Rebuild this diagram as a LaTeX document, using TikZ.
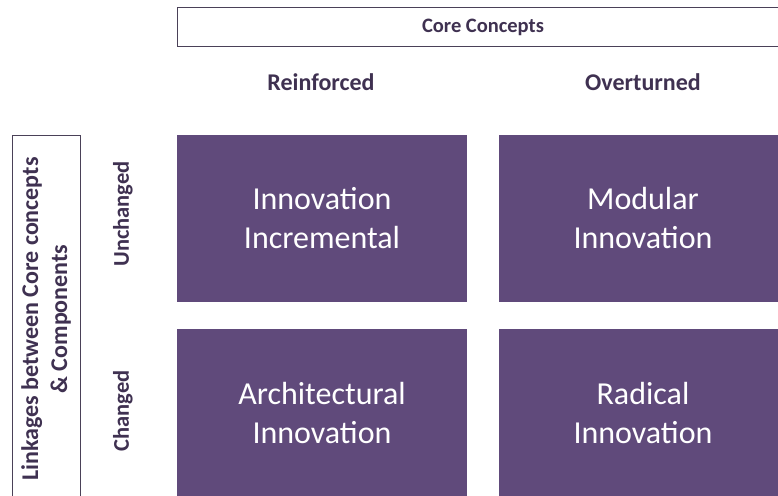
\documentclass[tikz,border=0pt]{standalone}
\usepackage{fontspec}
\setmainfont{Carlito}
\definecolor{boxpurple}{HTML}{604A7B}
\definecolor{labelpurple}{HTML}{3F3151}
\definecolor{framecol}{HTML}{4A4158}
\begin{document}
\begin{tikzpicture}[x=1pt,y=-1pt,
  cell/.style={fill=boxpurple, draw=none, inner sep=0pt, text=white, align=center,
    font=\fontsize{32}{39}\selectfont},
  hdr/.style={text=labelpurple, font=\bfseries\fontsize{20.5}{25}\selectfont, inner sep=0pt, align=center},
  hdrbig/.style={hdr, font=\bfseries\fontsize{24}{29}\selectfont},
  hdrmid/.style={hdr, font=\bfseries\fontsize{22.5}{27}\selectfont},
  frame/.style={draw=framecol, line width=0.8pt, fill=none}
]
\useasboundingbox (0,0) rectangle (778,495);
\clip (0,0) rectangle (778,495);
\fill[white] (0,0) rectangle (778,495);
% header boxes
\draw[frame] (177,7) rectangle (790,46);
\node[hdr] (core) at (483,27) {Core Concepts};
\node[hdrbig] (reinf) at (321,82) {Reinforced};
\node[hdrbig] (overt) at (643,82) {Overturned};
% left frame
\draw[frame] (12,135) rectangle (80,510);
\node[hdrbig, rotate=90] (link) at (46,319) {Linkages between Core concepts\\\& Components};
\node[hdrmid, rotate=90] (unch) at (123,214) {Unchanged};
\node[hdrmid, rotate=90] (chg) at (123,411) {Changed};
% cells
\fill[boxpurple] (177,135) rectangle (467,302);
\fill[boxpurple] (499,135) rectangle (787,302);
\fill[boxpurple] (177,329) rectangle (467,496);
\fill[boxpurple] (499,329) rectangle (787,496);
\node[cell] (inc) at (322,218) {Innovation\\Incremental};
\node[cell] (mod) at (643,218) {Modular\\Innovation};
\node[cell] (arch) at (322,413) {Architectural\\Innovation};
\node[cell] (rad) at (643,413) {Radical\\Innovation};
\end{tikzpicture}
\end{document}
